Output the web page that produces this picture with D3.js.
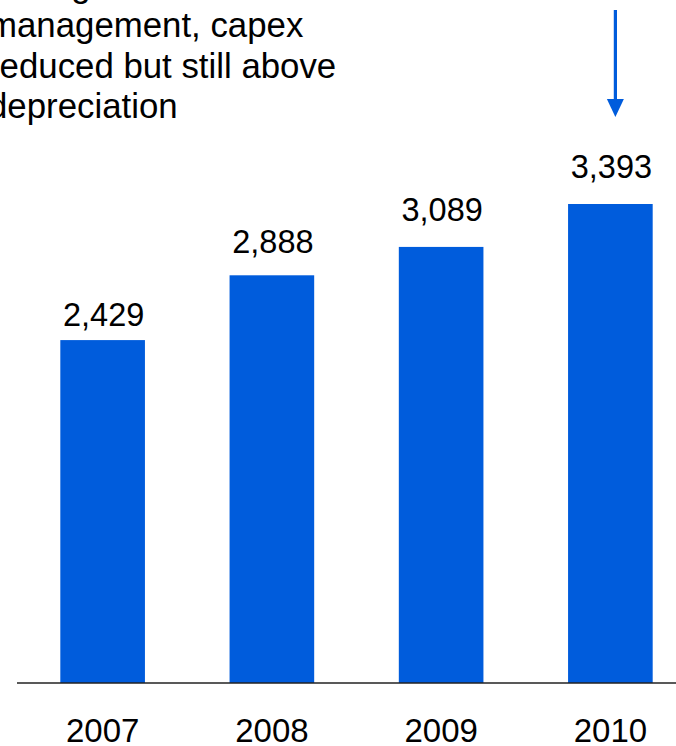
<!DOCTYPE html>
<html>
<head>
<meta charset="utf-8">
<script src="https://cdn.jsdelivr.net/npm/d3@7"></script>
<style>
  html, body { margin: 0; padding: 0; background: #fff; }
  svg { display: block; }
  text { font-family: "Liberation Sans", Arial, sans-serif; fill: #000; }
</style>
</head>
<body>
<svg id="chart" width="676" height="746"></svg>
<script>
// Capex by year
const years = ["2007", "2008", "2009", "2010"];
const capex = [2429, 2888, 3089, 3393];
const valueLabels = ["2,429", "2,888", "3,089", "3,393"];

// Annotation text (left aligned, runs off the left edge)
const noteLines = ["Strong cash", "management, capex", "reduced but still above", "depreciation"];

// Label gap above each bar top
const labelGap = [14, 22, 26, 26];

const W = 676, H = 746;
const BLUE = "#005cdc";
const baseY = 683;

const svg = d3.select("#chart");

const x = d3.scaleBand()
  .domain(years)
  .range([18, 695])
  .paddingInner(0.5)
  .paddingOuter(0.25);

const y = d3.scaleLinear()
  .domain([0, 3393])
  .range([baseY, 204]);

// Bars
svg.append("g")
  .selectAll("rect")
  .data(capex)
  .join("rect")
  .attr("x", (d, i) => x(years[i]))
  .attr("y", d => y(d))
  .attr("width", x.bandwidth())
  .attr("height", d => baseY - y(d))
  .attr("fill", BLUE);

// Value labels
svg.append("g")
  .selectAll("text")
  .data(capex)
  .join("text")
  .attr("x", (d, i) => x(years[i]) + x.bandwidth() / 2 + 1)
  .attr("y", (d, i) => y(d) - labelGap[i])
  .attr("text-anchor", "middle")
  .attr("font-size", 32.5)
  .text((d, i) => valueLabels[i]);

// Category axis
const axis = svg.append("g")
  .attr("transform", `translate(0,${baseY})`)
  .call(d3.axisBottom(x).tickSize(0).tickPadding(36));
axis.select(".domain").remove();
axis.selectAll("text")
  .attr("font-size", 33)
  .attr("dy", null)
  .attr("y", 59)
  .attr("font-family", "Liberation Sans, Arial, sans-serif")
  .attr("fill", "#000");

// Baseline
svg.append("line")
  .attr("x1", 17).attr("x2", W)
  .attr("y1", baseY).attr("y2", baseY)
  .attr("stroke", "#222")
  .attr("stroke-width", 1.5);

// Annotation
const note = svg.append("text")
  .attr("x", -12)
  .attr("y", -3.5)
  .attr("font-size", 34.8);
note.selectAll("tspan")
  .data(noteLines)
  .join("tspan")
  .attr("x", -12)
  .attr("dy", (d, i) => i === 0 ? 0 : 40.5)
  .text(d => d);

// Arrow pointing down at 2010
const ax = x("2010") + x.bandwidth() / 2 + 5;
svg.append("line")
  .attr("x1", ax).attr("x2", ax)
  .attr("y1", 10).attr("y2", 101)
  .attr("stroke", BLUE)
  .attr("stroke-width", 3.2);
svg.append("path")
  .attr("d", d3.line()([[ax - 8.5, 99], [ax + 8.5, 99], [ax, 117]]) + "Z")
  .attr("fill", BLUE);
</script>
</body>
</html>
